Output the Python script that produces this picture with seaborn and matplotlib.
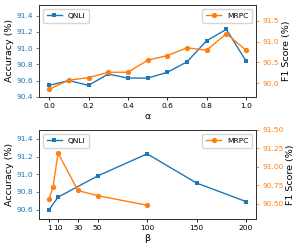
import matplotlib
matplotlib.use("Agg")
import matplotlib.pyplot as plt
import seaborn as sns
import pandas as pd

# alpha sweep
alpha = [0.0, 0.1, 0.2, 0.3, 0.4, 0.5, 0.6, 0.7, 0.8, 0.9, 1.0]
qnli_alpha = [90.54, 90.60, 90.54, 90.68, 90.63, 90.63, 90.70, 90.83, 91.09, 91.23, 90.84]
mrpc_alpha = [89.85, 90.07, 90.13, 90.26, 90.26, 90.55, 90.66, 90.85, 90.79, 91.19, 90.79]

# beta sweep
beta_qnli = [1, 10, 50, 100, 150, 200]
qnli_beta = [90.60, 90.74, 90.98, 91.23, 90.90, 90.69]
beta_mrpc = [1, 5, 10, 30, 50, 100]
mrpc_beta = [90.57, 90.73, 91.19, 90.68, 90.61, 90.48]
beta_ticks = [1, 10, 30, 50, 100, 150, 200]

blue = "#1f77b4"
orange = "#ff7f0e"
fs_tick = 5.4
fs_label = 6.8

fig = plt.figure(figsize=(3, 2.5), dpi=100)
ax1 = fig.add_axes([0.131, 0.613, 0.722, 0.367])
ax2 = fig.add_axes([0.131, 0.123, 0.722, 0.357])


def panel(ax, x1, y1, x2, y2, xlabel, ylim_l, ylim_r, yt_l, yt_r, fmt_r):
    sns.lineplot(x=x1, y=y1, ax=ax, color=blue, marker="s", markersize=3.5,
                 markeredgewidth=0, linewidth=1, label="QNLI")
    tw = ax.twinx()
    sns.lineplot(x=x2, y=y2, ax=tw, color=orange, marker="o", markersize=3.8,
                 markeredgewidth=0, linewidth=1, label="MRPC")
    ax.set_ylim(*ylim_l)
    tw.set_ylim(*ylim_r)
    ax.set_yticks(yt_l)
    ax.set_yticklabels([f"{v:.1f}" for v in yt_l])
    tw.set_yticks(yt_r)
    tw.set_yticklabels([fmt_r.format(v) for v in yt_r])
    ax.set_xlabel(xlabel, fontsize=fs_label, labelpad=2)
    ax.set_ylabel("Accuracy (%)", fontsize=fs_label, labelpad=2)
    tw.set_ylabel("F1 Score (%)", fontsize=fs_label, labelpad=2)
    ax.tick_params(axis="y", colors=blue, labelsize=fs_tick, length=2.5, width=0.6, pad=2)
    ax.tick_params(axis="x", labelsize=fs_tick, length=2.5, width=0.6, pad=2)
    tw.tick_params(axis="y", colors=orange, labelsize=fs_tick, length=2.5, width=0.6, pad=2)
    for a in (ax, tw):
        for s in a.spines.values():
            s.set_linewidth(0.7)
            s.set_color("#333333")
    ax.legend(loc="upper left", fontsize=fs_tick, handlelength=2, borderpad=0.5,
              frameon=True, fancybox=True)
    tw.legend(loc="upper right", fontsize=fs_tick, handlelength=2, borderpad=0.5,
              frameon=True, fancybox=True)
    return tw


panel(ax1, alpha, qnli_alpha, alpha, mrpc_alpha, "α",
      (90.4, 91.53), (89.67, 91.88),
      [90.4, 90.6, 90.8, 91.0, 91.2, 91.4], [90.0, 90.5, 91.0, 91.5], "{:.1f}")
ax1.set_xticks([0.0, 0.2, 0.4, 0.6, 0.8, 1.0])
ax1.set_xticklabels(["0.0", "0.2", "0.4", "0.6", "0.8", "1.0"])

panel(ax2, beta_qnli, qnli_beta, beta_mrpc, mrpc_beta, "β",
      (90.49, 91.5), (90.29, 91.5),
      [90.6, 90.8, 91.0, 91.2, 91.4], [90.5, 90.75, 91.0, 91.25, 91.5], "{:.2f}")
ax2.set_xticks(beta_ticks)
ax2.set_xticklabels([str(b) for b in beta_ticks])

fig.savefig("out.png", dpi=100)
